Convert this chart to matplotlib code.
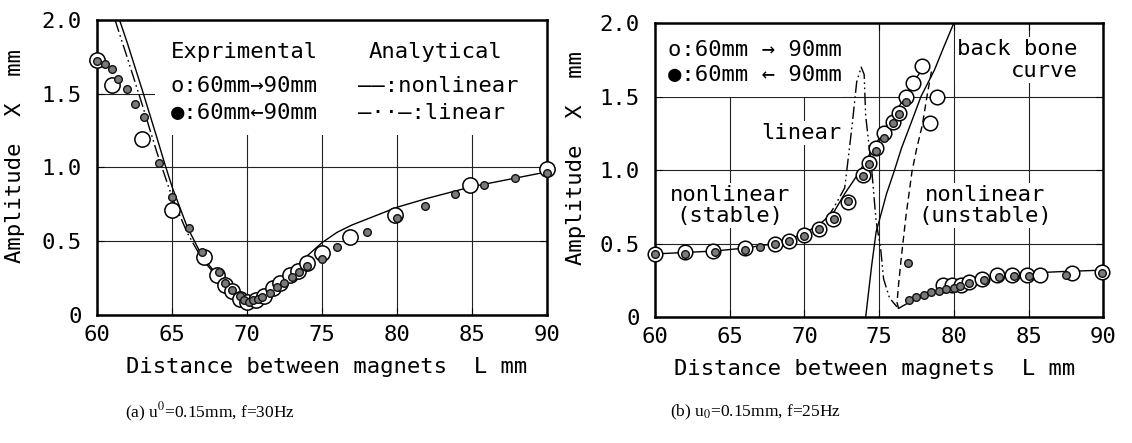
import matplotlib
matplotlib.use("Agg")
import matplotlib.pyplot as plt
from matplotlib.patches import Rectangle

# ---------------- data: panel (a) ----------------
a_nl_L = [61.5, 62, 63, 64, 64.5, 65, 66, 67, 68, 69, 70, 70.5, 71, 72, 73, 74, 75, 76, 77, 78, 80, 82, 85, 88, 90]
a_nl_Y = [2.0, 1.85, 1.53, 1.2, 1.03, 0.87, 0.6, 0.4, 0.27, 0.17, 0.1, 0.09, 0.12, 0.2, 0.3, 0.4, 0.49, 0.56, 0.61, 0.65, 0.73, 0.79, 0.87, 0.93, 0.97]
a_lin_L = [61.2, 62, 63, 64, 65, 66, 67, 68]
a_lin_Y = [2.0, 1.75, 1.43, 1.1, 0.8, 0.56, 0.38, 0.26]

a_up_L = [60, 61, 63, 65, 67.1, 68, 68.5, 69, 69.5, 70, 70.6, 71.1, 71.7, 72.2, 72.9, 73.4, 74, 75, 76.9, 79.9, 84.9, 90]
a_up_Y = [1.73, 1.56, 1.19, 0.71, 0.39, 0.27, 0.2, 0.16, 0.11, 0.09, 0.1, 0.13, 0.18, 0.22, 0.27, 0.3, 0.35, 0.42, 0.53, 0.68, 0.88, 0.99]
a_dn_L = [60, 60.5, 61, 61.4, 62, 62.5, 63.1, 64.1, 65, 66.1, 67, 68.1, 68.5, 69, 69.5, 69.8, 70.1, 70.4, 70.7, 71, 71.5, 72, 72.5, 73, 73.5, 74, 75, 76, 78, 80, 81.9, 83.9, 85.8, 87.9, 90]
a_dn_Y = [1.72, 1.7, 1.67, 1.6, 1.53, 1.43, 1.34, 1.03, 0.8, 0.59, 0.43, 0.29, 0.22, 0.17, 0.13, 0.1, 0.09, 0.1, 0.11, 0.12, 0.15, 0.19, 0.22, 0.26, 0.29, 0.33, 0.38, 0.46, 0.56, 0.66, 0.74, 0.82, 0.88, 0.93, 0.96]

# ---------------- data: panel (b) ----------------
b_stab_L = [60, 62, 64, 66, 68, 69, 70, 71, 72, 72.7, 73.5, 74.5, 75.5, 76.5, 77.3, 78.0]
b_stab_Y = [0.43, 0.44, 0.45, 0.47, 0.5, 0.53, 0.57, 0.63, 0.72, 0.84, 0.96, 1.13, 1.3, 1.46, 1.6, 1.70]
b_bone_L = [74.1, 74.5, 74.8, 75.1, 75.5, 76.0, 76.5, 77.1, 77.8, 78.7, 79.3, 80.0]
b_bone_Y = [0.0, 0.35, 0.58, 0.69, 0.84, 0.99, 1.15, 1.31, 1.5, 1.68, 1.83, 2.0]
b_unst_L = [78.5, 78.2, 77.9, 77.5, 77.2, 76.8, 76.5, 76.3, 76.2, 76.3]
b_unst_Y = [1.67, 1.5, 1.31, 1.14, 0.99, 0.69, 0.42, 0.22, 0.1, 0.06]
b_low_L = [76.3, 77, 78.3, 79.9, 81, 82.8, 85, 87.2, 90]
b_low_Y = [0.06, 0.1, 0.16, 0.2, 0.24, 0.28, 0.3, 0.31, 0.32]
b_lin_L = [71.5, 72.0, 72.7, 73.2, 73.5, 73.8, 74.0, 74.1, 74.5, 74.8, 75.1, 75.3, 75.7, 76.2]
b_lin_Y = [0.67, 0.75, 0.88, 1.31, 1.6, 1.70, 1.65, 1.37, 1.01, 0.65, 0.47, 0.26, 0.13, 0.07]

b_up_L = [60, 62, 63.9, 66, 68, 69, 70, 71, 71.9, 72.9, 73.9, 74.3, 74.8, 75.3, 75.9, 76.3, 76.8, 77.3, 77.9,
          78.9, 78.4, 79.3, 79.9, 80.5, 81, 81.9, 82.9, 83.9, 84.9, 85.8, 87.9, 89.9]
b_up_Y = [0.43, 0.44, 0.45, 0.47, 0.5, 0.52, 0.56, 0.6, 0.67, 0.78, 0.97, 1.05, 1.15, 1.25, 1.33, 1.39, 1.5, 1.59, 1.71,
          1.5, 1.32, 0.22, 0.22, 0.22, 0.24, 0.26, 0.29, 0.29, 0.29, 0.29, 0.3, 0.31]
b_dn_L = [60, 62, 64, 66, 67, 68, 69, 70, 71, 72, 72.9, 73.9, 74.3, 74.8, 75.3, 75.9, 76.3, 76.8,
          76.9, 77.0, 77.5, 78, 78.5, 79, 79.5, 80, 80.4, 81, 82, 83, 84, 85, 87.5, 89.9]
b_dn_Y = [0.43, 0.43, 0.44, 0.46, 0.48, 0.5, 0.52, 0.55, 0.6, 0.67, 0.79, 0.96, 1.04, 1.13, 1.22, 1.32, 1.38, 1.46,
          0.37, 0.12, 0.14, 0.15, 0.17, 0.18, 0.19, 0.2, 0.21, 0.23, 0.25, 0.27, 0.28, 0.28, 0.29, 0.3]

x_ticks = [60, 65, 70, 75, 80, 85, 90]
x_ticklabels = ["60", "65", "70", "75", "80", "85", "90"]
y_ticks = [0, 0.5, 1.0, 1.5, 2.0]
y_ticklabels = ["0", "0.5", "1.0", "1.5", "2.0"]

MONO = ["DejaVu Sans Mono", "DejaVu Sans"]
FS = 16
plt.rcParams["font.family"] = MONO
plt.rcParams["mathtext.fontset"] = "stix"

fig = plt.figure(figsize=(11.32, 4.43), dpi=100)
axA = fig.add_axes([0.0857, 0.289, 0.3975, 0.666])
axB = fig.add_axes([0.5786, 0.284, 0.396, 0.664])

DASHDOT = (0, (9, 2.5, 1.2, 2.5, 1.2, 2.5))
DASHED = (0, (5, 3))

def style(ax, lab_xy, ylab_xy):
    ax.set_xlim(60, 90)
    ax.set_ylim(0, 2)
    ax.set_xticks(x_ticks)
    ax.set_xticklabels(x_ticklabels)
    ax.set_yticks(y_ticks)
    ax.set_yticklabels(y_ticklabels)
    ax.tick_params(direction="in", length=5, width=0.8, top=True, right=True,
                   labelsize=FS, pad=7)
    ax.tick_params(axis="y", pad=11)
    ax.set_axisbelow(True)
    ax.grid(True, color="#222222", lw=0.8)
    for s in ax.spines.values():
        s.set_linewidth(1.8)
    ax.set_xlabel("Distance between magnets  L mm", fontsize=FS)
    ax.xaxis.set_label_coords(*lab_xy)
    ax.set_ylabel("Amplitude  X  mm", fontsize=FS)
    ax.yaxis.set_label_coords(*ylab_xy)

style(axA, (0.51, -0.142), (-0.16, 0.54))
style(axB, (0.49, -0.143), (-0.154, 0.54))

def points(ax, Lu, Yu, Ld, Yd, ms):
    ax.plot(Lu, Yu, "o", ms=ms, mfc="white", mec="black", mew=1.1, ls="none", zorder=3, clip_on=False)
    ax.plot(Ld, Yd, "o", ms=5.5, mfc="#7a7a7a", mec="#111111", mew=1.0, ls="none", zorder=4, clip_on=False)

# ---- panel (a)
axA.add_patch(Rectangle((0.129, 0.61), 0.87, 0.388, transform=axA.transAxes,
                        facecolor="white", edgecolor="none", zorder=1))
axA.plot(a_nl_L, a_nl_Y, color="black", lw=1.0, zorder=2)
axA.plot(a_lin_L, a_lin_Y, color="black", lw=1.0, ls=DASHDOT, zorder=2)
points(axA, a_up_L, a_up_Y, a_dn_L, a_dn_Y, 11)

tk = dict(fontsize=FS, va="center", ha="left", zorder=1.5)
axA.text(64.9, 1.78, "Exprimental", **tk)
axA.text(64.9, 1.55, "o:60mm\u219290mm", **tk)
axA.text(64.9, 1.37, "\u25cf:60mm\u219090mm", **tk)
axA.text(78.1, 1.78, "Analytical", **tk)
axA.text(77.4, 1.55, "\u2014\u2014:nonlinear", **tk)
axA.text(77.4, 1.37, "\u2014\u00b7\u00b7\u2014:linear", **tk)

# ---- panel (b)
axB.add_patch(Rectangle((0.0, 0.75), 0.42, 0.248, transform=axB.transAxes,
                        facecolor="white", edgecolor="none", zorder=1))
axB.plot(b_stab_L, b_stab_Y, color="black", lw=1.0, zorder=2)
axB.plot(b_bone_L, b_bone_Y, color="black", lw=1.0, zorder=2)
axB.plot(b_unst_L, b_unst_Y, color="black", lw=1.0, ls=DASHED, zorder=2)
axB.plot(b_low_L, b_low_Y, color="black", lw=1.0, zorder=2)
axB.plot(b_lin_L, b_lin_Y, color="black", lw=1.0, ls=DASHDOT, zorder=2)
points(axB, b_up_L, b_up_Y, b_dn_L, b_dn_Y, 10.5)

bb = dict(facecolor="white", edgecolor="none", pad=1.5)
axB.text(60.9, 1.82, "o:60mm \u2192 90mm", **tk)
axB.text(60.9, 1.65, "\u25cf:60mm \u2190 90mm", **tk)
axB.text(72.5, 1.25, "linear", fontsize=FS, ha="right", va="center", zorder=1.5, bbox=bb)
axB.text(65.0, 0.76, "nonlinear\n(stable)", fontsize=FS, ha="center", va="center",
         zorder=1.5, bbox=bb, linespacing=1.1)
axB.text(82.1, 0.76, "nonlinear\n(unstable)", fontsize=FS, ha="center", va="center",
         zorder=1.5, bbox=bb, linespacing=1.1)
axB.text(88.3, 1.75, "back bone\ncurve", fontsize=FS, ha="right", va="center",
         zorder=1.5, bbox=bb, linespacing=1.1, multialignment="right")

# captions
cap = dict(fontsize=12.5, family="Liberation Serif", ha="center", va="center")
fig.text(0.1855, 0.068, r"(a) u$^{0}$=0.15mm, f=30Hz", **cap)
fig.text(0.667, 0.068, r"(b) u$_{0}$=0.15mm, f=25Hz", **cap)

fig.savefig("out.png", dpi=100)
